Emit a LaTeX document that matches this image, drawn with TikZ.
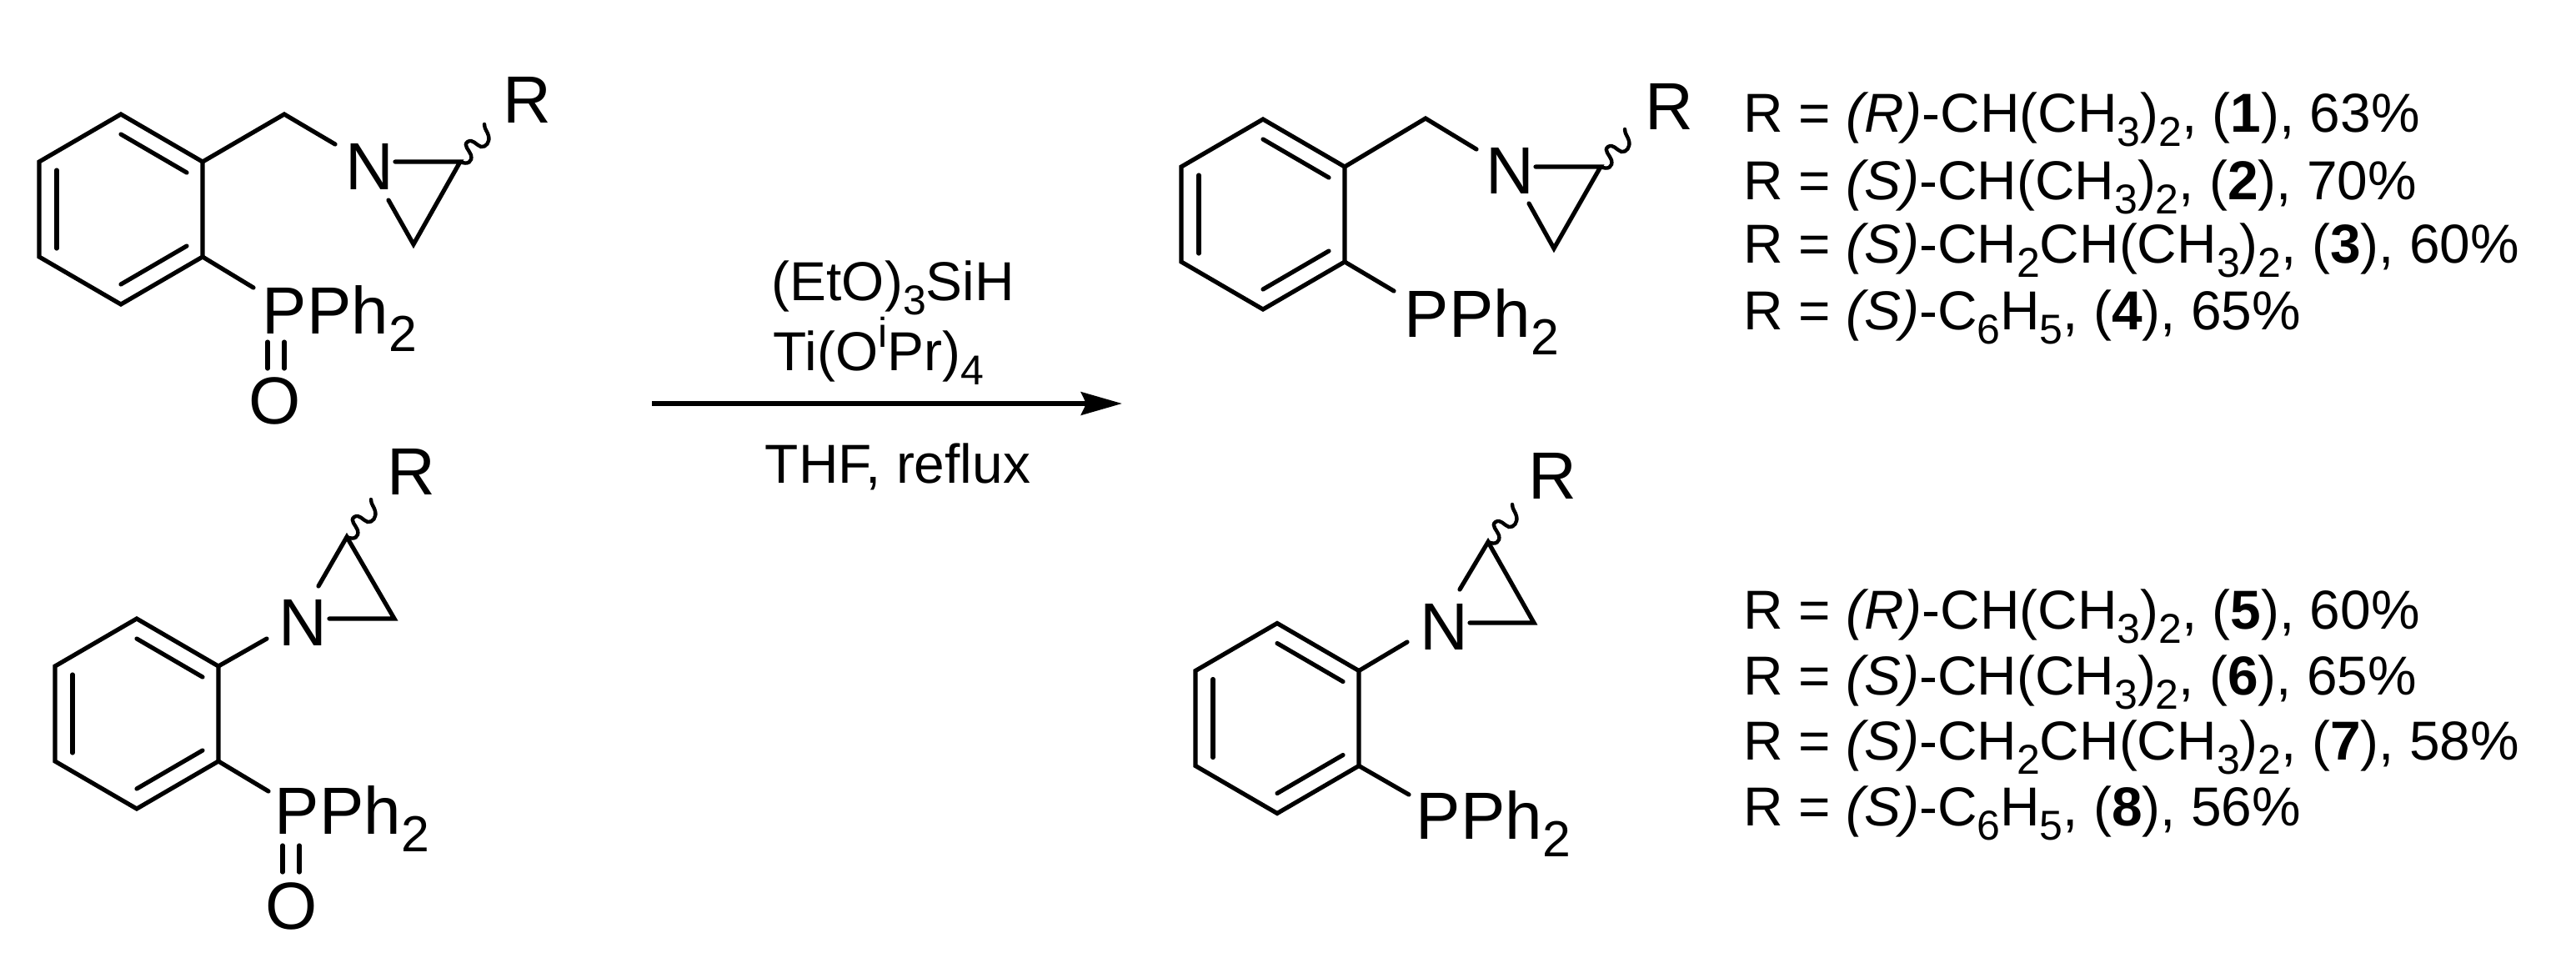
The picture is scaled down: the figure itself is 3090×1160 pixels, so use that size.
\documentclass[tikz,border=0pt]{standalone}
\usepackage{fontspec}
\setmainfont{Liberation Sans}
\usetikzlibrary{arrows.meta}
\newcommand{\subs}[1]{\raisebox{-.27em}{\scalebox{.76}{#1}}}
\newcommand{\sups}[1]{\raisebox{.42em}{\scalebox{.76}{#1}}}
\newcommand{\benzene}[3]{%
  \begin{scope}[shift={(#2,#3)}]
    \coordinate (#1top) at (0,-114);
    \coordinate (#1ur) at (98,-57);
    \coordinate (#1lr) at (98,57);
    \coordinate (#1bot) at (0,114);
    \coordinate (#1ll) at (-98,57);
    \coordinate (#1ul) at (-98,-57);
    \draw[bond] (#1top) -- (#1ur) -- (#1lr) -- (#1bot) -- (#1ll) -- (#1ul) -- cycle;
    \draw[bond] (0,-90) -- (79,-44);
    \draw[bond] (79,44) -- (0,90);
    \draw[bond] (-77,-47) -- (-77,47);
  \end{scope}}
\newcommand{\wavybond}[1]{%
  \draw[wavy,shift={(#1)}] (0,0) .. controls (9,4) and (15,0) .. (13,-8)
    .. controls (11,-14) and (3,-20) .. (9,-24)
    .. controls (15,-28) and (19,-20) .. (25,-18)
    .. controls (31,-17) and (36,-24) .. (34,-31)
    .. controls (33,-36) and (29,-39) .. (29,-45);}
\begin{document}
\begin{tikzpicture}[x=0.24pt,y=-0.24pt,
    bond/.style={line width=1.25pt,line cap=round},
    wavy/.style={line width=1.05pt,line cap=round},
    atom/.style={inner sep=0pt,font=\fontsize{19.2}{19.2}\selectfont},
    txt/.style={inner sep=0pt,anchor=base west,font=\fontsize{15.8}{15.8}\selectfont}]
  \useasboundingbox (0,0) rectangle (3090,1160);

  % top left
  \benzene{a}{145}{251}
  \node[atom] (aN) at (443,200) {N};
  \node[atom] (aR) at (632,120) {R};
  \node[atom,anchor=base west] (aP) at (314,400) {PPh\subs{2}};
  \node[atom] (aO) at (330,481) {O};
  \coordinate (ach2) at (341,137);
  \coordinate (ach2n) at (402,173);
  \coordinate (an1) at (474,194);
  \coordinate (ac1) at (552,194);
  \coordinate (ac2) at (496,293);
  \coordinate (an2) at (466,240);
  \coordinate (apb) at (304,345);
  \draw[bond] (aur) -- (ach2) -- (ach2n);
  \draw[bond] (alr) -- (apb);
  \draw[bond] (an1) -- (ac1) -- (ac2) -- (an2);
  \draw[bond] (321,410) -- (321,442) (341,410) -- (341,442);
  \wavybond{ac1}

  % bottom left
  \benzene{b}{164}{856}
  \node[atom] (bN) at (363,747) {N};
  \node[atom] (bR) at (493,566) {R};
  \node[atom,anchor=base west] (bP) at (329,1000) {PPh\subs{2}};
  \node[atom] (bO) at (350,1087) {O};
  \coordinate (bnb) at (320,766);
  \coordinate (bn1) at (382,703);
  \coordinate (bc1) at (416,644);
  \coordinate (bc2) at (473,742);
  \coordinate (bn2) at (395,742);
  \coordinate (bpb) at (322,949);
  \draw[bond] (bur) -- (bnb);
  \draw[bond] (blr) -- (bpb);
  \draw[bond] (bn1) -- (bc1) -- (bc2) -- (bn2);
  \draw[bond] (339,1014) -- (339,1046) (359,1014) -- (359,1046);
  \wavybond{bc1}

  % arrow and conditions
  \coordinate (arrowa) at (782,484);
  \coordinate (arrowb) at (1346,484);
  \draw[line width=1.4pt,-{Stealth[length=11.8pt,width=6.6pt,inset=1.5pt]}] (arrowa) -- (arrowb);
  \node[txt] (cond1) at (925,360) {(EtO)\subs{3}SiH};
  \node[txt] (cond2) at (927,444) {Ti(O\sups{i}Pr)\subs{4}};
  \node[txt] (cond3) at (917,579) {THF, reflux};

  % top right
  \benzene{c}{1515}{257}
  \node[atom] (cN) at (1811,205) {N};
  \node[atom] (cR) at (2002,128) {R};
  \node[atom,anchor=base west] (cP) at (1684,404) {PPh\subs{2}};
  \coordinate (cch2) at (1710,142);
  \coordinate (cch2n) at (1771,179);
  \coordinate (cn1) at (1842,200);
  \coordinate (cc1) at (1920,200);
  \coordinate (cc2) at (1864,298);
  \coordinate (cn2) at (1834,244);
  \coordinate (cpb) at (1672,349);
  \draw[bond] (cur) -- (cch2) -- (cch2n);
  \draw[bond] (clr) -- (cpb);
  \draw[bond] (cn1) -- (cc1) -- (cc2) -- (cn2);
  \wavybond{cc1}

  % bottom right
  \benzene{d}{1532}{861.5}
  \node[atom] (dN) at (1732,751.5) {N};
  \node[atom] (dR) at (1862.5,571) {R};
  \node[atom,anchor=base west] (dP) at (1698,1006) {PPh\subs{2}};
  \coordinate (dnb) at (1688,770);
  \coordinate (dn1) at (1751,707);
  \coordinate (dc1) at (1785,650);
  \coordinate (dc2) at (1840,747);
  \coordinate (dn2) at (1763,747);
  \coordinate (dpb) at (1690,953);
  \draw[bond] (dur) -- (dnb);
  \draw[bond] (dlr) -- (dpb);
  \draw[bond] (dn1) -- (dc1) -- (dc2) -- (dn2);
  \wavybond{dc1}

  % yields
  \node[txt] (r1) at (2091,158) {R = \textit{(R)}-CH(CH\subs{3})\subs{2}, (\textbf{1}), 63\%};
  \node[txt] (r2) at (2091,239) {R = \textit{(S)}-CH(CH\subs{3})\subs{2}, (\textbf{2}), 70\%};
  \node[txt] (r3) at (2091,315) {R = \textit{(S)}-CH\subs{2}CH(CH\subs{3})\subs{2}, (\textbf{3}), 60\%};
  \node[txt] (r4) at (2091,395) {R = \textit{(S)}-C\subs{6}H\subs{5}, (\textbf{4}), 65\%};
  \node[txt] (r5) at (2091,754) {R = \textit{(R)}-CH(CH\subs{3})\subs{2}, (\textbf{5}), 60\%};
  \node[txt] (r6) at (2091,833) {R = \textit{(S)}-CH(CH\subs{3})\subs{2}, (\textbf{6}), 65\%};
  \node[txt] (r7) at (2091,911) {R = \textit{(S)}-CH\subs{2}CH(CH\subs{3})\subs{2}, (\textbf{7}), 58\%};
  \node[txt] (r8) at (2091,990) {R = \textit{(S)}-C\subs{6}H\subs{5}, (\textbf{8}), 56\%};
\end{tikzpicture}
\end{document}
